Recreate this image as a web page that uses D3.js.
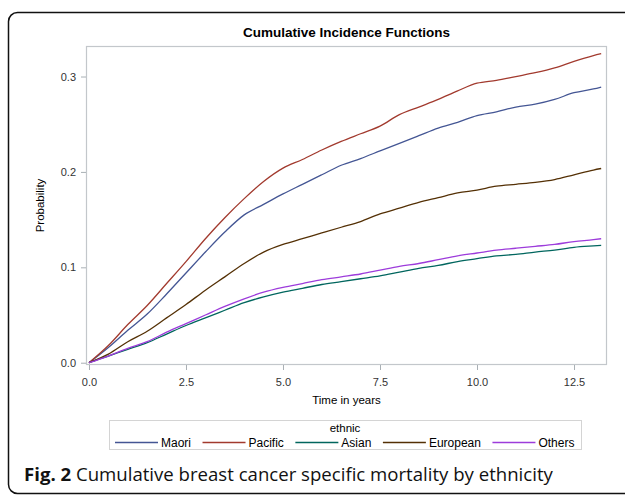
<!DOCTYPE html>
<html>
<head>
<meta charset="utf-8">
<script src="https://cdn.jsdelivr.net/npm/d3@7"></script>
<style>
  body { margin: 0; background: #fff; }
  svg { display: block; }
</style>
</head>
<body>
<div id="chart"></div>
<script>
var svgwidth = 625;
var svgheight = 496;

var times = [0, 0.5, 1, 1.5, 2, 2.5, 3, 3.5, 4, 4.5, 5, 5.5, 6, 6.5, 7, 7.5, 8, 8.5, 9, 9.5, 10, 10.5, 11, 11.5, 12, 12.5, 13, 13.2];
var maori = [0, 0.016, 0.034, 0.051, 0.072, 0.094, 0.116, 0.137, 0.155, 0.166, 0.177, 0.187, 0.197, 0.207, 0.214, 0.222, 0.230, 0.238, 0.246, 0.252, 0.259, 0.263, 0.268, 0.271, 0.276, 0.283, 0.287, 0.289];
var pacific = [0, 0.018, 0.040, 0.060, 0.083, 0.106, 0.130, 0.152, 0.172, 0.190, 0.204, 0.213, 0.223, 0.232, 0.240, 0.248, 0.260, 0.268, 0.276, 0.285, 0.293, 0.296, 0.300, 0.304, 0.309, 0.316, 0.322, 0.324];
var asian = [0, 0.007, 0.014, 0.021, 0.030, 0.039, 0.047, 0.055, 0.063, 0.069, 0.074, 0.078, 0.082, 0.085, 0.088, 0.091, 0.095, 0.099, 0.102, 0.106, 0.109, 0.112, 0.1135, 0.116, 0.118, 0.121, 0.1225, 0.123];
var european = [0, 0.009, 0.022, 0.033, 0.047, 0.061, 0.076, 0.090, 0.104, 0.116, 0.124, 0.130, 0.136, 0.142, 0.148, 0.156, 0.162, 0.168, 0.173, 0.178, 0.181, 0.185, 0.187, 0.189, 0.192, 0.197, 0.202, 0.2036];
var others = [0, 0.007, 0.015, 0.022, 0.032, 0.041, 0.050, 0.059, 0.067, 0.074, 0.079, 0.083, 0.087, 0.090, 0.093, 0.097, 0.101, 0.104, 0.108, 0.112, 0.115, 0.118, 0.120, 0.122, 0.124, 0.127, 0.129, 0.130];

var groups = ["Maori", "Pacific", "Asian", "European", "Others"];
var colors = ["#445694", "#A23A2E", "#01665E", "#543005", "#9D3CDB"];
var seriesValues = [maori, pacific, asian, european, others];

var xTicks = [0, 2.5, 5, 7.5, 10, 12.5];
var yTicks = [0, 0.1, 0.2, 0.3];

var margin = { top: 46, left: 86, right: 18, bottom: 131 };
var width = svgwidth - margin.left - margin.right;
var height = svgheight - margin.top - margin.bottom;

var svg = d3.select("#chart").append("svg").attr("width", svgwidth).attr("height", svgheight);

// outer frame
svg.append("rect")
    .attr("x", 8.5).attr("y", 12.5)
    .attr("width", 640).attr("height", 481)
    .attr("rx", 9)
    .attr("fill", "none").attr("stroke", "#111").attr("stroke-width", 1.5);

svg.append("text")
    .attr("x", margin.left + width / 2).attr("y", 37)
    .attr("text-anchor", "middle")
    .style("font", "bold 13.5px 'Liberation Sans', Arial, sans-serif")
    .attr("fill", "#000")
    .text("Cumulative Incidence Functions");

var chartGroup = svg.append("g").attr("transform", `translate(${margin.left}, ${margin.top})`);

var xLinear = d3.scaleLinear().domain([-0.077, 13.35]).range([0, width]);
var yLinear = d3.scaleLinear().domain([-0.0024, 0.332]).range([height, 0]);

chartGroup.append("rect")
    .attr("x", 0.5).attr("y", 0.5).attr("width", width - 1).attr("height", height - 1)
    .attr("fill", "none").attr("stroke", "#c3c7cb").attr("stroke-width", 1.2);

var bottomAxis = d3.axisBottom(xLinear).tickValues(xTicks).tickFormat(d3.format(".1f")).tickSize(5).tickPadding(5).tickSizeOuter(0);
var leftAxis = d3.axisLeft(yLinear).tickValues(yTicks).tickFormat(d3.format(".1f")).tickSize(5).tickPadding(5).tickSizeOuter(0);

var gx = chartGroup.append("g").attr("transform", `translate(0, ${height})`).call(bottomAxis);
var gy = chartGroup.append("g").call(leftAxis);
[gx, gy].forEach(function(g) {
    g.select(".domain").remove();
    g.selectAll("line").attr("stroke", "#a9b0b5");
    g.selectAll("text")
        .style("font", "11px 'Liberation Sans', Arial, sans-serif")
        .attr("fill", "#333");
});
gx.selectAll("text").attr("dy", "1em");

svg.append("text")
    .attr("x", margin.left + width / 2).attr("y", 404)
    .attr("text-anchor", "middle")
    .style("font", "11.5px 'Liberation Sans', Arial, sans-serif")
    .attr("fill", "#000")
    .text("Time in years");

svg.append("text")
    .attr("transform", `translate(44, ${margin.top + height / 2}) rotate(-90)`)
    .attr("text-anchor", "middle")
    .style("font", "11.5px 'Liberation Sans', Arial, sans-serif")
    .attr("fill", "#000")
    .text("Probability");

var line = d3.line()
    .x(function(d) { return xLinear(d[0]); })
    .y(function(d) { return yLinear(d[1]); })
    .curve(d3.curveMonotoneX);

groups.forEach(function(name, i) {
    var pts = times.map(function(t, j) { return [t, seriesValues[i][j]]; });
    chartGroup.append("path")
        .datum(pts)
        .attr("d", line)
        .attr("fill", "none")
        .attr("stroke", colors[i])
        .attr("stroke-width", 1.3);
});

// legend
var legend = svg.append("g");
legend.append("rect")
    .attr("x", 109.5).attr("y", 420.5).attr("width", 472).attr("height", 29)
    .attr("fill", "#fff").attr("stroke", "#d4d4d4");
legend.append("text")
    .attr("x", 345).attr("y", 432)
    .attr("text-anchor", "middle")
    .style("font", "11.5px 'Liberation Sans', Arial, sans-serif")
    .attr("fill", "#000")
    .text("ethnic");

var lx = 115;
groups.forEach(function(name, i) {
    legend.append("line")
        .attr("x1", lx).attr("x2", lx + 43)
        .attr("y1", 442.5).attr("y2", 442.5)
        .attr("stroke", colors[i]).attr("stroke-width", 1.3);
    var t = legend.append("text")
        .attr("x", lx + 46).attr("y", 446.5)
        .style("font", "12px 'Liberation Sans', Arial, sans-serif")
        .attr("fill", "#000")
        .text(name);
    lx = lx + 46 + t.node().getComputedTextLength() + 11.5;
});

// caption
var cap = svg.append("text")
    .attr("x", 24).attr("y", 481)
    .style("font-family", "'Open Sans', sans-serif")
    .style("font-size", "18.6px")
    .attr("fill", "#111");
cap.append("tspan").style("font-weight", "bold").text("Fig. 2");
cap.append("tspan").text(" Cumulative breast cancer specific mortality by ethnicity");
</script>
</body>
</html>
